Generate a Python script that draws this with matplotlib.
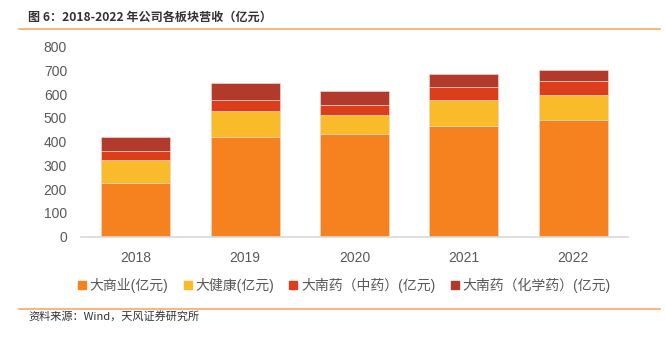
import matplotlib
matplotlib.use("Agg")
import matplotlib.pyplot as plt
from matplotlib.lines import Line2D
import numpy as np

plt.rcParams['font.family'] = ['Liberation Sans', 'Noto Sans CJK SC', 'DejaVu Sans']

years = ["2018", "2019", "2020", "2021", "2022"]
series_names = ["大商业(亿元)", "大健康(亿元)", "大南药（中药）(亿元)", "大南药（化学药）(亿元)"]
commerce = [227, 421, 431, 467, 490]
health = [96, 108, 80, 110, 107]
tcm = [38, 45, 43, 52, 57]
chem = [57, 72, 59, 56, 48]
colors = ["#F5821F", "#FABB2B", "#DC3D1A", "#B13A2C"]
yticks = [0, 100, 200, 300, 400, 500, 600, 700, 800]

fig = plt.figure(figsize=(6.65, 3.38), dpi=100)
ax = fig.add_axes([0.1218, 0.2997, 0.8226, 0.5621])

x = np.arange(len(years))
bottom = np.zeros(len(years))
for vals, col in zip([commerce, health, tcm, chem], colors):
    ax.bar(x, vals, width=0.63, bottom=bottom, color=col,
           edgecolor="#f3d2c0", linewidth=0.5, zorder=2)
    bottom += np.array(vals)

ax.set_xlim(-0.5, len(years) - 0.5)
ax.set_ylim(0, 800)
ax.set_yticks(yticks)
ax.set_yticklabels([str(v) for v in yticks])
ax.set_xticks(x)
ax.set_xticklabels(years)
ax.tick_params(axis='both', length=0, labelsize=10, colors="#595959")
ax.tick_params(axis='x', pad=10)
ax.tick_params(axis='y', pad=10)
for side in ["top", "right", "left"]:
    ax.spines[side].set_visible(False)
ax.spines["bottom"].set_color("#D9D9D9")
ax.spines["bottom"].set_linewidth(1.2)

handles = [Line2D([0], [0], marker='s', linestyle='none', markersize=6,
                  markerfacecolor=c, markeredgecolor=c) for c in colors]
fig.legend(handles, series_names, loc="center left",
           bbox_to_anchor=(72 / 665, 1 - 285 / 338), ncol=4, frameon=False,
           fontsize=10, handlelength=0.6, handletextpad=0.25,
           columnspacing=1.1, labelcolor="#595959", borderaxespad=0)

# header and footer
fig.text(28 / 665, 1 - 17 / 338, "图 6：2018-2022 年公司各板块营收（亿元）",
         fontsize=8.7, fontweight="bold", color="#333333",
         family=['Noto Sans CJK SC', 'DejaVu Sans'], va="center", ha="left")
fig.add_artist(Line2D([19 / 665, 660 / 665], [1 - 28.5 / 338] * 2,
                      color="#F7A867", linewidth=1.2, transform=fig.transFigure))
fig.add_artist(Line2D([19 / 665, 660 / 665], [1 - 308.5 / 338] * 2,
                      color="#F7A867", linewidth=1.2, transform=fig.transFigure))
fig.text(28 / 665, 1 - 316 / 338, "资料来源：Wind，天风证券研究所",
         fontsize=8, color="#333333",
         family=['Noto Sans CJK SC', 'DejaVu Sans'], va="center", ha="left")

fig.savefig("out.png", dpi=100)
